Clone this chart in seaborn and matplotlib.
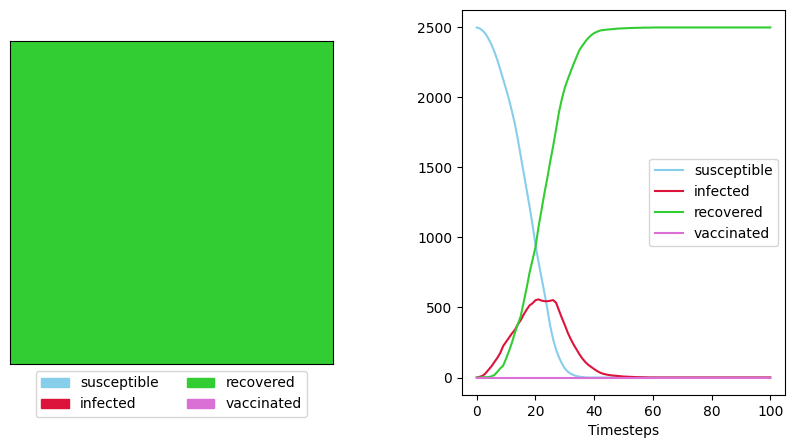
import numpy as np
import pandas as pd
import matplotlib
matplotlib.use("Agg")
import matplotlib.pyplot as plt
from matplotlib.colors import ListedColormap
from matplotlib.patches import Patch
import seaborn as sns

# state names and colours
states = ["susceptible", "infected", "recovered", "vaccinated"]
state_colors = ["skyblue", "crimson", "limegreen", "orchid"]

# counts per timestep (0..100)
susceptible = [2500, 2493, 2478, 2455, 2420, 2378, 2328, 2268, 2200, 2130,
               2060, 1985, 1900, 1810, 1700, 1580, 1460, 1340, 1220, 1090,
               950, 830, 720, 610, 495, 370, 275, 200, 145, 100,
               65, 42, 27, 17, 10, 6, 3, 1] + [0] * 63
infected = [0, 5, 12, 30, 55, 80, 110, 140, 175, 225,
            255, 285, 315, 340, 380, 410, 450, 485, 515, 530,
            552, 558, 550, 545, 545, 548, 553, 535, 480, 425,
            375, 320, 275, 235, 200, 165, 135, 110, 90, 75,
            60, 46, 35, 27, 22, 18, 15, 13, 11, 9,
            7, 6, 5, 4, 3, 2, 2, 1, 1] + [0] * 42
recovered = [0, 0, 2, 2, 3, 8, 18, 40, 65, 85,
             135, 190, 250, 320, 380, 440, 540, 640, 750, 840,
             930, 1070, 1190, 1310, 1420, 1540, 1650, 1770, 1895, 1990,
             2070, 2130, 2185, 2240, 2290, 2340, 2370, 2400, 2425, 2445,
             2460, 2470, 2478, 2482, 2484, 2486, 2488, 2490, 2492, 2493,
             2494, 2495, 2496, 2497, 2497, 2498, 2498, 2499, 2499, 2499] + [2500] * 41
vaccinated = [0] * 101
timesteps = list(range(101))

# final grid: every cell recovered (state index 2), 50 x 50 = 2500 agents
grid_size = 50
final_state = 2


def main():
    df = pd.DataFrame({
        "Timesteps": timesteps,
        "susceptible": susceptible,
        "infected": infected,
        "recovered": recovered,
        "vaccinated": vaccinated,
    })

    fig, (ax_grid, ax_line) = plt.subplots(1, 2, figsize=(7.95, 4.48), dpi=100)
    plt.subplots_adjust(left=0.0126, right=0.9874, top=0.9777, bottom=0.1183, wspace=0.4)

    # left: grid of agent states
    grid = np.full((grid_size, grid_size), final_state)
    ax_grid.imshow(grid, cmap=ListedColormap(state_colors), vmin=0, vmax=3,
                   interpolation="nearest")
    ax_grid.set_xticks([])
    ax_grid.set_yticks([])
    handles = [Patch(color=c, label=s) for s, c in zip(states, state_colors)]
    ax_grid.legend(handles=handles, loc="upper center", bbox_to_anchor=(0.5, 0.0),
                   ncol=2, fontsize=10)

    # right: counts over time
    for s, c in zip(states, state_colors):
        sns.lineplot(data=df, x="Timesteps", y=s, color=c, label=s, ax=ax_line)
    ax_line.set_ylabel("")
    ax_line.set_xlabel("Timesteps")
    ax_line.legend(loc="center right")

    fig.savefig("out.png", dpi=100)


if __name__ == "__main__":
    main()
